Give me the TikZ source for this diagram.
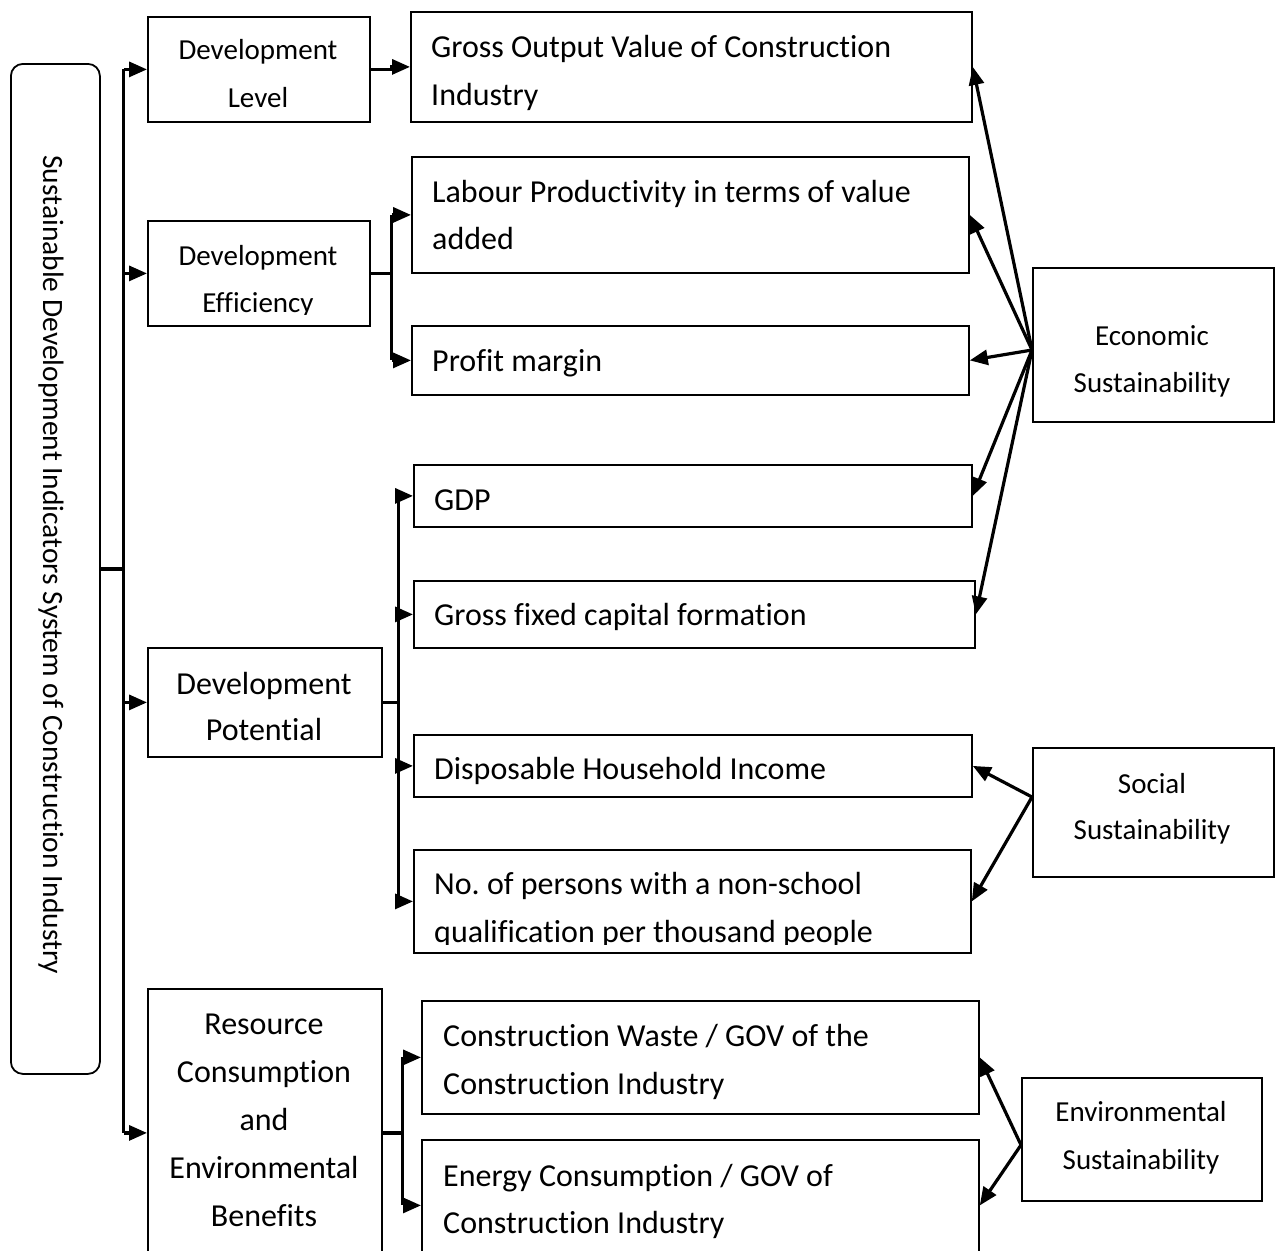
\documentclass[tikz,border=0pt]{standalone}
\usepackage{fontspec}
\setmainfont{Carlito}[Ligatures={NoCommon}]
\usetikzlibrary{arrows.meta,calc}
\frenchspacing
\tikzset{
  bx/.style={draw, line width=1.8pt, inner sep=0pt, anchor=north west},
  big/.style={font=\fontsize{32}{38}\selectfont, inner sep=0pt, anchor=base west},
  bigc/.style={font=\fontsize{32}{38}\selectfont, inner sep=0pt, anchor=base},
  small/.style={font=\fontsize{29}{35}\selectfont, inner sep=0pt, anchor=base},
  cn/.style={line width=3.2pt},
  arr/.style={cn, -{Triangle[length=18pt,width=15pt]}}
}
% box: name, left, top, width, height
\newcommand\bbox[5]{\node[bx, minimum width=#4pt, minimum height=#5pt] (#1) at (#2,#3) {};}
\begin{document}
\begin{tikzpicture}[x=1pt,y=-1pt]
\clip (0,0) rectangle (1281,1250);
\fill[white] (0,0) rectangle (1281,1250);

% root
\node[bx, rounded corners=12pt, minimum width=89pt, minimum height=1010pt] (root) at (10,63) {};
\node[small, font=\fontsize{29.5}{35}\selectfont, anchor=center, rotate=-90] (roottxt) at (51,565) {Sustainable Development Indicators System of Construction Industry};

% first level
\bbox{lev}{147}{16}{222}{105}
\bbox{eff}{147}{220}{222}{105}
\bbox{pot}{147}{647}{234}{109}
\bbox{res}{147}{988}{234}{288}

% indicators
\bbox{gov}{410}{11}{561}{110}
\bbox{lab}{411}{156}{557}{116}
\bbox{prof}{411}{325}{557}{69}
\bbox{gdp}{413}{464}{558}{62}
\bbox{gfcf}{413}{580}{561}{67}
\bbox{dhi}{413}{734}{558}{62}
\bbox{nop}{413}{849}{557}{103}
\bbox{cw}{421}{1000}{557}{113}
\bbox{ec}{421}{1139}{557}{131}

% sustainability dimensions
\bbox{econ}{1032}{267}{241}{154}
\bbox{soc}{1032}{747}{241}{129}
\bbox{env}{1021}{1077}{240}{123}

% texts
\node[small] (levA) at (258,59) {Development};
\node[small] (levB) at (258,107) {Level};
\node[small] (effA) at (258,265) {Development};
\begin{scope}
\clip (147,220) rectangle (369,314);
\node[small] (effB) at (258,312) {Efficiency};
\end{scope}
\node[bigc] (potA) at (264,694) {Development};
\node[bigc] (potB) at (264,740) {Potential};
\node[bigc] (resA) at (264,1034) {Resource};
\node[bigc] (resB) at (264,1082) {Consumption};
\node[bigc] (resC) at (264,1130) {and};
\node[bigc] (resD) at (264,1178) {Environmental};
\node[bigc] (resE) at (264,1226) {Benefits};

\node[big] (govA) at (431,57) {Gross Output Value of Construction};
\node[big] (govB) at (431,105) {Industry};
\node[big] (labA) at (432,202) {Labour Productivity in terms of value};
\node[big] (labB) at (432,249) {added};
\node[big] (profA) at (432,371) {Profit margin};
\node[big] (gdpA) at (434,510) {GDP};
\node[big] (gfcfA) at (434,625) {Gross fixed capital formation};
\node[big] (dhiA) at (434,779) {Disposable Household Income};
\node[big] (nopA) at (434,894) {No. of persons with a non-school};
\begin{scope}
\clip (413,849) rectangle (970,944);
\node[big] (nopB) at (434,942) {qualification per thousand people};
\end{scope}
\node[big] (cwA) at (443,1046) {Construction Waste / GOV of the};
\node[big] (cwB) at (443,1094) {Construction Industry};
\node[big] (ecA) at (443,1186) {Energy Consumption / GOV of};
\node[big] (ecB) at (443,1233) {Construction Industry};

\node[small] (econA) at (1152,345) {Economic};
\node[small] (econB) at (1152,392) {Sustainability};
\node[small] (socA) at (1152,793) {Social};
\node[small] (socB) at (1152,839) {Sustainability};
\node[small] (envA) at (1141,1121) {Environmental};
\node[small] (envB) at (1141,1169) {Sustainability};

% trunk from the root
\draw[cn] (root.east) -- ++(23,0) coordinate (tr);
\draw[cn] (tr |- lev.west) -- (tr |- res.west);
\foreach \b in {lev,eff,pot,res}
  \draw[arr] (tr |- \b.west) -- (\b.west);

% development level
\draw[arr] (lev.east) -- ++(21,0) |- (gov.west);

% development efficiency
\draw[cn] (eff.east) -- ++(21,0) coordinate (be);
\draw[cn] (be |- lab.west) -- (be |- prof.west);
\foreach \b in {lab,prof}
  \draw[arr] (be |- \b.west) -- (\b.west);

% development potential
\draw[cn] (pot.east) -- ++(16,0) coordinate (bp);
\draw[cn] (bp |- gdp.west) -- (bp |- nop.west);
\foreach \b in {gdp,gfcf,dhi,nop}
  \draw[arr] (bp |- \b.west) -- (\b.west);

% resources and environment
\draw[cn] (res.west -| res.east) -- ++(20,0) coordinate (br);
\draw[cn] (br |- cw.west) -- (br |- ec.west);
\foreach \b in {cw,ec}
  \draw[arr] (br |- \b.west) -- (\b.west);

% sustainability links
\coordinate (eo) at ($(econ.north west)+(0,83)$);
\foreach \b in {gov,lab,prof,gdp,gfcf}
  \draw[arr] (eo) -- (\b.east);
\coordinate (so) at ($(soc.north west)+(0,50)$);
\foreach \b in {dhi,nop}
  \draw[arr] (so) -- (\b.east);
\coordinate (vo) at ($(env.north west)+(0,68)$);
\foreach \b in {cw,ec}
  \draw[arr] (vo) -- (\b.east);
\end{tikzpicture}
\end{document}
